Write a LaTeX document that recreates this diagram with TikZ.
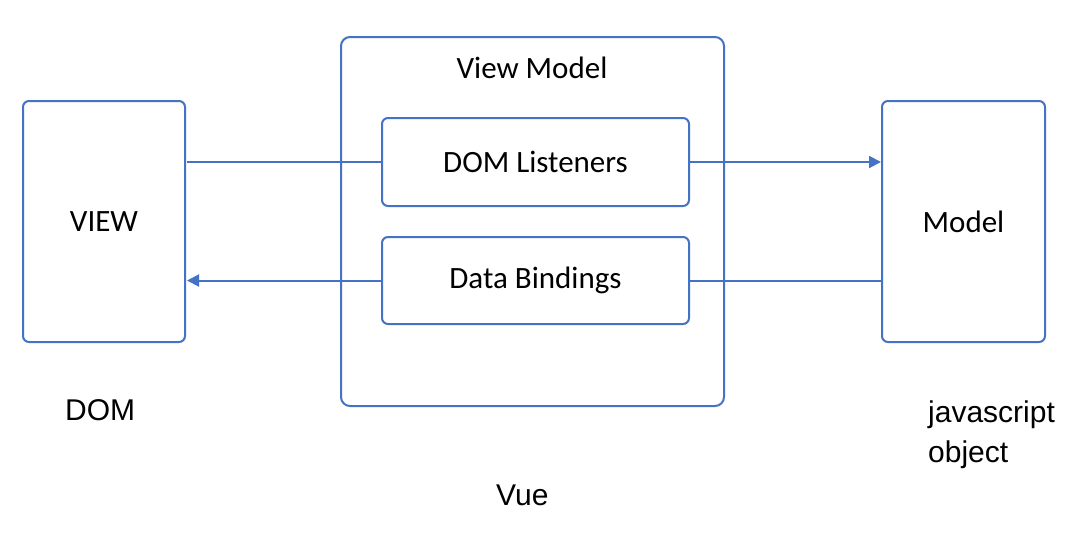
\documentclass[tikz,border=0pt]{standalone}
\usepackage{fontspec}
\setmainfont{Carlito}
\newfontfamily\lblfont{Liberation Sans}
\usetikzlibrary{arrows.meta,backgrounds}
\definecolor{vblue}{HTML}{4472C4}
\begin{document}
\begin{tikzpicture}[x=1pt,y=-1pt,
  box/.style={draw=vblue,line width=2pt,fill=white,rounded corners=6pt,inner sep=0pt,font=\fontsize{31}{36}\selectfont},
  outerbox/.style={draw=vblue,line width=2pt,rounded corners=9pt,inner sep=0pt},
  conn/.style={draw=vblue,line width=2pt,-{Triangle[length=12pt,width=12pt]}},
  lbl/.style={anchor=base west,inner sep=0pt,font=\lblfont\fontsize{30}{40}\selectfont},
  title/.style={inner sep=0pt,font=\fontsize{31}{36}\selectfont}]
\useasboundingbox (0,0) rectangle (1086,550);
\node[outerbox,minimum width=383pt,minimum height=369pt] (vm) at (532.5,221.5) {};
\node[title] (vmt) at (532,68) {View Model};
\node[box,minimum width=162pt,minimum height=241pt] (view) at (104,221.5) {VIEW};
\node[box,minimum width=163pt,minimum height=241pt] (model) at (963.5,221.5) {Model};
\node[box,minimum width=307pt,minimum height=88pt] (dl) at (535.5,162) {DOM Listeners};
\node[box,minimum width=307pt,minimum height=87pt] (db) at (535.5,280.5) {Data Bindings};
\begin{scope}[on background layer]
\fill[white] (0,0) rectangle (1086,550);
\draw[conn] ([xshift=1pt]view.east |- dl.west) -- (model.west |- dl.west);
\draw[conn] (model.west |- db.west) -- ([xshift=1pt]view.east |- db.west);
\end{scope}
\node[lbl] (dom) at (65,420) {DOM};
\node[lbl] (vue) at (496,505) {Vue};
\node[lbl] (js) at (928,422) {javascript};
\node[lbl] (obj) at (928,462) {object};
\end{tikzpicture}
\end{document}
